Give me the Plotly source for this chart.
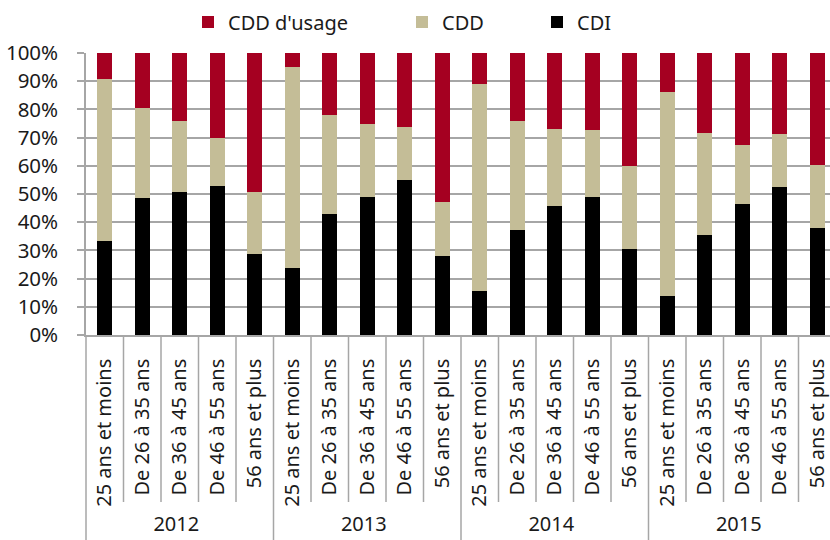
import plotly.graph_objects as go

# Categories
years = ["2012"] * 5 + ["2013"] * 5 + ["2014"] * 5 + ["2015"] * 5
age_groups = ["25 ans et moins", "De 26 à 35 ans", "De 36 à 45 ans",
              "De 46 à 55 ans", "56 ans et plus"] * 4

# Share of each contract type (%)
cdi = [33.2, 48.6, 50.8, 52.9, 28.8,
       23.8, 43.0, 48.8, 54.8, 27.9,
       15.6, 37.4, 45.8, 48.9, 30.5,
       13.8, 35.3, 46.4, 52.4, 37.9]
cdd = [57.5, 32.0, 25.2, 17.1, 22.0,
       71.4, 34.9, 26.2, 18.9, 19.4,
       73.5, 38.6, 27.3, 23.7, 29.6,
       72.2, 36.5, 21.1, 18.8, 22.5]
cdd_usage = [9.3, 19.4, 24.0, 30.0, 49.2,
             4.8, 22.1, 25.0, 26.3, 52.7,
             10.9, 24.0, 26.9, 27.4, 39.9,
             14.0, 28.2, 32.5, 28.8, 39.6]

y_ticks = list(range(0, 101, 10))
y_tick_text = [f"{v}%" for v in y_ticks]

FONT = "Noto Sans"
GRID = "#A6A6A6"
TEXT = "#1a1a1a"

W, H = 830, 540
ML, MT, MB = 86, 53, 205
plot_h = H - MT - MB
x_range = [-0.5, 19.34]

fig = go.Figure()
fig.add_trace(go.Bar(x=[years, age_groups], y=cdi, name="CDI",
                     marker=dict(color="#000000", line=dict(width=0)),
                     legend="legend3", showlegend=True))
fig.add_trace(go.Bar(x=[years, age_groups], y=cdd, name="CDD",
                     marker=dict(color="#C4BD97", line=dict(width=0)),
                     legend="legend2", showlegend=True))
fig.add_trace(go.Bar(x=[years, age_groups], y=cdd_usage, name="CDD d'usage",
                     marker=dict(color="#A50021", line=dict(width=0)),
                     legend="legend", showlegend=True))


def xfrac(v):
    return (v - x_range[0]) / (x_range[1] - x_range[0])


# Separators between age groups and between years in the label area
shapes = []
n = len(age_groups)
for k in range(-1, n):
    b = k + 0.5
    if b > x_range[1]:
        continue
    long_line = (k + 1) % 5 == 0
    depth = (H - MT - plot_h) if long_line else 167
    shapes.append(dict(type="line", xref="paper", yref="paper",
                       x0=xfrac(b), x1=xfrac(b), y0=0, y1=-depth / plot_h,
                       line=dict(color=GRID, width=1.5)))

leg_common = dict(orientation="h", xref="container", yref="container",
                  y=1 - 22 / H, yanchor="middle", xanchor="left",
                  font=dict(family=FONT, size=20, color=TEXT),
                  bgcolor="rgba(0,0,0,0)", visible=True)

fig.update_layout(
    width=W, height=H,
    margin=dict(l=ML, r=0, t=MT, b=MB, autoexpand=False),
    paper_bgcolor="white", plot_bgcolor="white",
    barmode="stack", bargap=0.6,
    showlegend=True,
    font=dict(family=FONT, size=20, color=TEXT),
    shapes=shapes,
    legend=dict(x=188 / W, **leg_common),
    legend2=dict(x=402 / W, **leg_common),
    legend3=dict(x=537 / W, **leg_common),
    xaxis=dict(type="multicategory", range=x_range, tickangle=-90,
               showdividers=False, ticks="", showline=True,
               linecolor=GRID, linewidth=1.5, showgrid=False,
               ticklabelstandoff=14, automargin=False,
               tickfont=dict(family=FONT, size=20, color=TEXT)),
    yaxis=dict(range=[0, 100], tickvals=y_ticks, ticktext=y_tick_text,
               showgrid=True, gridcolor=GRID, gridwidth=1.5,
               showline=True, linecolor=GRID, linewidth=1.5,
               ticks="outside", ticklen=7, tickcolor=GRID, tickwidth=1.5,
               ticklabelstandoff=15, zeroline=False, automargin=False,
               tickfont=dict(family=FONT, size=20.5, color=TEXT)),
)

fig.write_html("out.html")
